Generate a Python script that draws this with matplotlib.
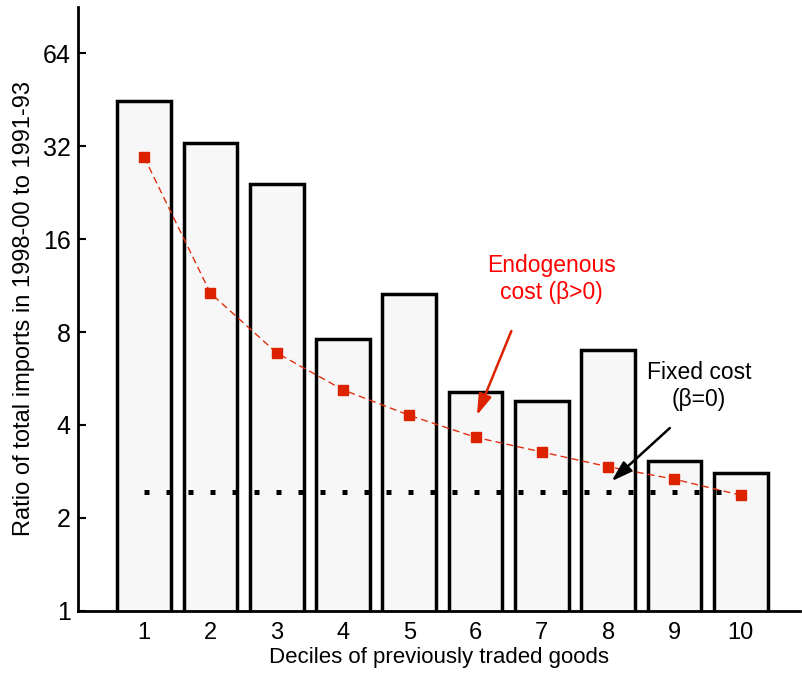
import numpy as np
import matplotlib.pyplot as plt

plt.rcParams["font.family"] = ["Liberation Sans", "DejaVu Sans"]

deciles = np.arange(1, 11)
actual = [44.7, 32.8, 24.1, 7.6, 10.6, 5.1, 4.8, 7.0, 3.06, 2.8]
endogenous = [29.5, 10.7, 6.85, 5.2, 4.3, 3.65, 3.27, 2.93, 2.67, 2.37]
fixed_cost = 2.43
yticks = [1, 2, 4, 8, 16, 32, 64]

fig = plt.figure(figsize=(8.02, 6.75), dpi=100)
ax = fig.add_axes([0.097, 0.095, 0.901, 0.895])

ax.bar(deciles, actual, width=0.81, bottom=0, color="#f7f7f7",
       edgecolor="black", linewidth=2.5, zorder=1)
ax.plot(deciles, endogenous, linestyle=(0, (5, 3)), color="#e03010",
        linewidth=1.0, marker="s", markersize=7.5, markerfacecolor="#dd2200",
        markeredgecolor="#dd2200", zorder=3)
ax.plot([deciles[0], deciles[-1]], [fixed_cost, fixed_cost], color="black",
        linestyle=(0, (1, 3.4)), linewidth=3.6, dash_capstyle="butt", zorder=2)

ax.set_yscale("log", base=2)
ax.set_ylim(1, 2 ** 6.5)
ax.set_xlim(0, 10.9)
ax.set_yticks(yticks)
ax.set_yticklabels([str(v) for v in yticks])
ax.set_xticks(deciles)
ax.minorticks_off()
ax.tick_params(axis="y", direction="in", length=6, width=1.5, labelsize=18, pad=5)
ax.tick_params(axis="x", length=0, labelsize=17, pad=8)

for side in ("top", "right"):
    ax.spines[side].set_visible(False)
ax.spines["left"].set_linewidth(2)
ax.spines["bottom"].set_linewidth(2)

ax.set_xlabel("Deciles of previously traded goods", fontsize=16, labelpad=2)
ax.set_ylabel("Ratio of total imports in 1998-00 to 1991-93", fontsize=17, labelpad=6)

head = "-|>,head_length=0.7,head_width=0.22"
ax.text(7.15, 11.9, "Endogenous\ncost (\u03b2>0)", ha="center", va="center",
        fontsize=16.5, color="red")
ax.annotate("", xy=(6.02, 4.3), xytext=(6.54, 8.06),
            arrowprops=dict(arrowstyle=head, color="#dd2200", lw=1.8,
                            mutation_scale=18, shrinkA=0, shrinkB=0))
ax.text(9.37, 5.35, "Fixed cost\n(\u03b2=0)", ha="center", va="center",
        fontsize=16.5, color="black")
ax.annotate("", xy=(8.05, 2.63), xytext=(8.93, 3.91),
            arrowprops=dict(arrowstyle=head, color="black", lw=1.8,
                            mutation_scale=18, shrinkA=0, shrinkB=0))

fig.savefig("out.png", dpi=100)
